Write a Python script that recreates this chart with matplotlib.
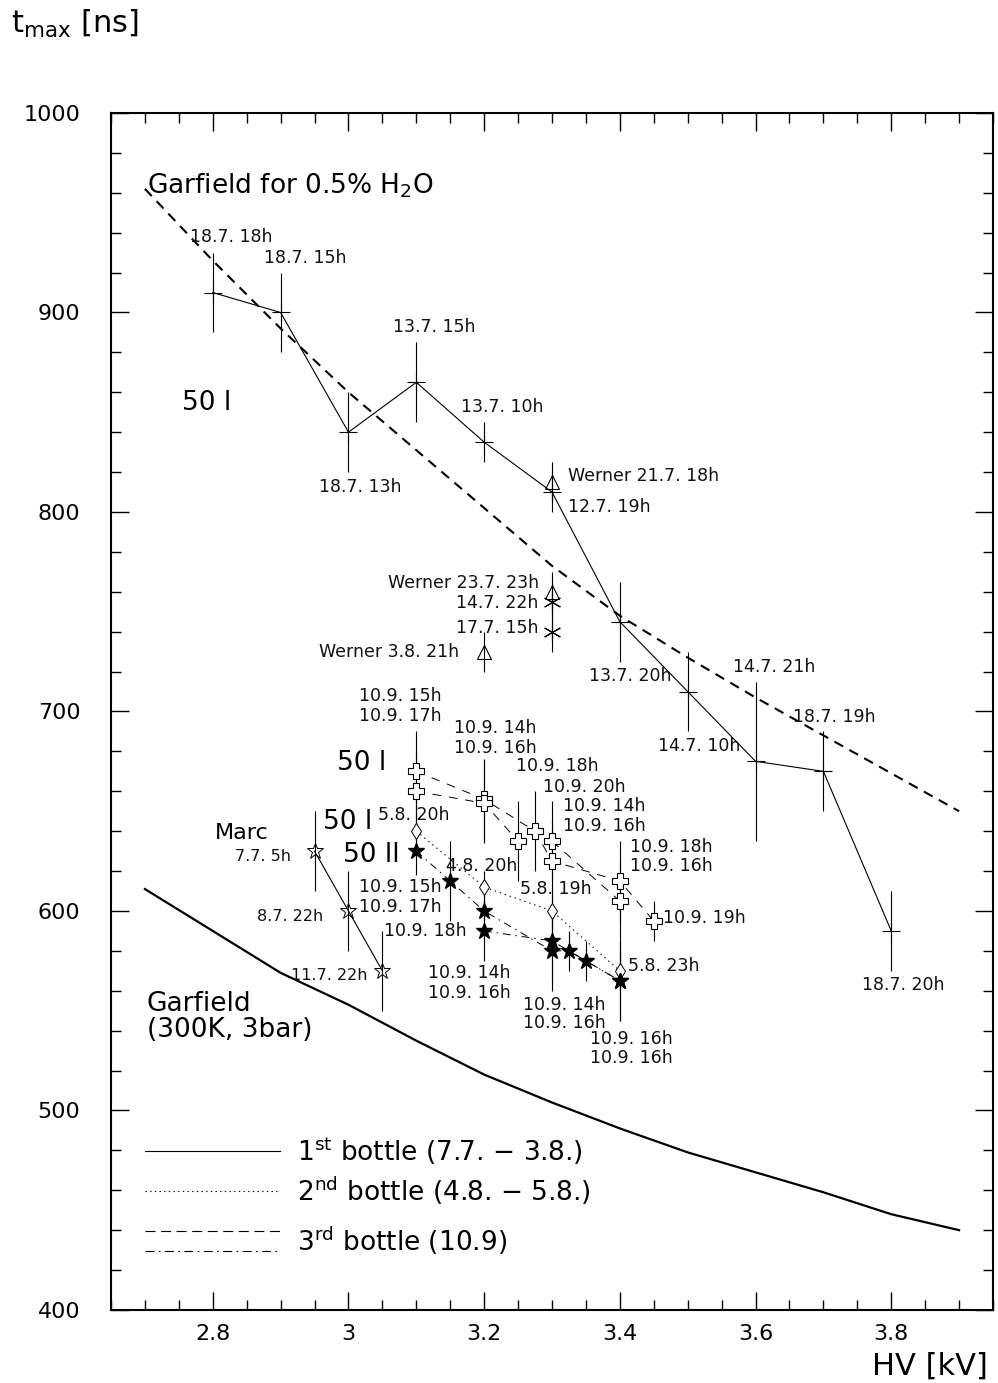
import matplotlib.pyplot as plt
from matplotlib.ticker import MultipleLocator

plt.rcParams['font.family'] = ['DejaVu Sans']
plt.rcParams['mathtext.default'] = 'regular'

# Garfield simulations
hv_garf = [2.7, 2.8, 2.9, 3.0, 3.1, 3.2, 3.3, 3.4, 3.5, 3.6, 3.7, 3.8, 3.9]
t_garf_h2o = [962, 926, 892, 860, 831, 802, 773, 748, 727, 707, 688, 669, 650]
t_garf_3bar = [611, 590, 569, 553, 535, 518, 504, 491, 479, 469, 459, 448, 440]

# 1st bottle (7.7. - 3.8.)
hv1 = [2.8, 2.9, 3.0, 3.1, 3.2, 3.3, 3.4, 3.5, 3.6, 3.7, 3.8]
t1 = [910, 900, 840, 865, 835, 810, 745, 710, 675, 670, 590]
e1 = [20, 20, 20, 20, 10, 10, 20, 20, 40, 20, 20]

hv_marc = [2.95, 3.0, 3.05]
t_marc = [630, 600, 570]
e_marc = [20, 20, 20]

hv_werner = [3.3, 3.3, 3.2]
t_werner = [815, 760, 730]
e_werner = [10, 10, 10]

hv_ast = [3.3, 3.3]
t_ast = [755, 740]
e_ast = [10, 10]

# 2nd bottle (4.8. - 5.8.)
hv2 = [3.1, 3.2, 3.3, 3.4]
t2 = [640, 612, 600, 570]
e2 = [10, 8, 10, 10]

# 3rd bottle (10.9), open crosses
hv3a = [3.1, 3.2, 3.275, 3.3, 3.4, 3.45]
t3a = [670, 656, 640, 625, 615, 595]
e3a = [20, 20, 20, 20, 20, 10]
hv3b = [3.1, 3.2, 3.25]
t3b = [660, 654, 635]
e3b = [20, 20, 20]
hv3c = [3.3, 3.4]
t3c = [635, 605]
e3c = [20, 20]

# 3rd bottle (10.9), full stars
hv3s1 = [3.1, 3.15, 3.2, 3.3, 3.325, 3.35, 3.4]
t3s1 = [630, 615, 600, 580, 580, 575, 565]
e3s1 = [12, 20, 15, 20, 10, 10, 20]
hv3s2 = [3.2, 3.3, 3.4]
t3s2 = [590, 585, 565]
e3s2 = [15, 20, 20]

# run labels: text, x, y, alignment
labels = [
    ('18.7. 18h', 2.8275, 937.8, 'center'),
    ('18.7. 15h', 2.9365, 927.3, 'center'),
    ('18.7. 13h', 3.0175, 812.5, 'center'),
    ('13.7. 15h', 3.1264, 892.7, 'center'),
    ('13.7. 10h', 3.2266, 852.6, 'center'),
    ('12.7. 19h', 3.323, 802.5, 'left'),
    ('Werner 21.7. 18h', 3.323, 818.0, 'left'),
    ('13.7. 20h', 3.4158, 717.8, 'center'),
    ('14.7. 10h', 3.5167, 682.7, 'center'),
    ('14.7. 21h', 3.6272, 722.3, 'center'),
    ('18.7. 19h', 3.7155, 697.2, 'center'),
    ('18.7. 20h', 3.8171, 562.9, 'center'),
    ('Werner 23.7. 23h', 3.2803, 764.4, 'right'),
    ('14.7. 22h', 3.2803, 754.4, 'right'),
    ('17.7. 15h', 3.2803, 741.9, 'right'),
    ('Werner 3.8. 21h', 3.1625, 729.8, 'right'),
    ('10.9. 15h', 3.0764, 707.8, 'center'),
    ('10.9. 17h', 3.0764, 697.7, 'center'),
    ('10.9. 14h', 3.217, 691.7, 'center'),
    ('10.9. 16h', 3.217, 681.7, 'center'),
    ('10.9. 18h', 3.3076, 672.7, 'center'),
    ('10.9. 20h', 3.3473, 662.2, 'center'),
    ('10.9. 14h', 3.3768, 652.6, 'center'),
    ('10.9. 16h', 3.3768, 642.6, 'center'),
    ('10.9. 18h', 3.4755, 632.3, 'center'),
    ('10.9. 16h', 3.4755, 622.6, 'center'),
    ('10.9. 19h', 3.463, 596.5, 'left'),
    ('5.8. 20h', 3.0958, 647.9, 'center'),
    ('10.9. 15h', 3.0764, 612.0, 'center'),
    ('10.9. 17h', 3.0764, 602.0, 'center'),
    ('10.9. 18h', 3.1132, 590.0, 'center'),
    ('10.9. 14h', 3.178, 568.9, 'center'),
    ('10.9. 16h', 3.178, 558.9, 'center'),
    ('10.9. 14h', 3.3179, 552.9, 'center'),
    ('10.9. 16h', 3.3179, 543.9, 'center'),
    ('10.9. 16h', 3.4166, 535.8, 'center'),
    ('10.9. 16h', 3.4166, 526.3, 'center'),
    ('4.8. 20h', 3.1971, 622.6, 'center'),
    ('5.8. 19h', 3.3061, 611.0, 'center'),
    ('5.8. 23h', 3.4114, 572.4, 'left'),
]
marc_labels = [
    ('7.7. 5h', 2.9151, 627.1),
    ('8.7. 22h', 2.9622, 597.0),
    ('11.7. 22h', 3.0285, 567.9),
]

fig = plt.figure(figsize=(9.98, 13.83), dpi=100)
ax = fig.add_axes([0.1112, 0.0528, 0.8838, 0.8655])

ax.plot(hv_garf, t_garf_h2o, color='k', lw=1.5, dashes=(4.8, 3.4))
ax.plot(hv_garf, t_garf_3bar, color='k', lw=1.6)

eb = dict(ecolor='k', elinewidth=0.8, capsize=0)
ax.errorbar(hv1, t1, yerr=e1, color='k', lw=0.8, marker='+', ms=13, mew=0.8, **eb)
ax.errorbar(hv_marc, t_marc, yerr=e_marc, color='k', lw=0.8, marker='*', ms=12,
            mfc='none', mew=0.7, **eb)
ax.errorbar(hv_werner, t_werner, yerr=e_werner, fmt='none', **eb)
ax.plot(hv_werner, t_werner, ls='none', marker='^', ms=10, mfc='none', mec='k', mew=0.8)
ax.errorbar(hv_ast, t_ast, yerr=e_ast, fmt='none', **eb)
ax.plot(hv_ast, t_ast, ls='none', marker=(6, 2, 0), ms=13, mec='k', mew=0.8)

ax.errorbar(hv2, t2, yerr=e2, color='k', lw=0.8, dashes=(1.2, 3.5), marker='d', ms=8,
            mfc='white', mec='k', mew=0.7, **eb)

for hv, t, e in [(hv3a, t3a, e3a), (hv3b, t3b, e3b), (hv3c, t3c, e3c)]:
    ax.errorbar(hv, t, yerr=e, color='k', lw=0.7, dashes=(9, 8), marker='P', ms=12,
                mfc='white', mec='k', mew=0.8, **eb)
for hv, t, e in [(hv3s1, t3s1, e3s1), (hv3s2, t3s2, e3s2)]:
    ax.errorbar(hv, t, yerr=e, color='k', lw=0.7, dashes=(8, 5, 1.5, 5), marker='*',
                ms=12, mfc='k', mec='k', **eb)

for txt, x, y, ha in labels:
    ax.text(x, y, txt, fontsize=12.5, ha=ha, va='center', color='#111111')
for txt, x, y in marc_labels:
    ax.text(x, y, txt, fontsize=11.5, ha='right', va='center', color='#111111')

ax.text(2.703, 963.4, 'Garfield for 0.5% H$_2$O', fontsize=19, va='center')
ax.text(2.7546, 854.6, '50 l', fontsize=19, va='center')
ax.text(2.8032, 639.1, 'Marc', fontsize=16, va='center')
ax.text(2.9622, 644.6, '50 l', fontsize=19, va='center')
ax.text(2.9917, 628.1, '50 ll', fontsize=19, va='center')
ax.text(2.9828, 674.2, '50 l', fontsize=19, va='center')
ax.text(2.703, 553.4, 'Garfield', fontsize=19, va='center')
ax.text(2.703, 540.4, '(300K, 3bar)', fontsize=19, va='center')

# legend drawn by hand
tr = ax.transAxes
ax.plot([0.0385, 0.1916], [0.1328, 0.1328], transform=tr, color='k', lw=0.8)
ax.plot([0.0385, 0.1916], [0.0994, 0.0994], transform=tr, color='k', lw=0.8, dashes=(1.2, 3.0))
ax.plot([0.0385, 0.1916], [0.0660, 0.0660], transform=tr, color='k', lw=0.8, dashes=(9, 5))
ax.plot([0.0385, 0.1916], [0.0493, 0.0493], transform=tr, color='k', lw=0.8,
        dashes=(8, 4, 1.5, 4))
ax.text(0.2109, 0.1328, '1$^{st}$ bottle (7.7. $-$ 3.8.)', transform=tr, fontsize=19, va='center')
ax.text(0.2109, 0.0994, '2$^{nd}$ bottle (4.8. $-$ 5.8.)', transform=tr, fontsize=19, va='center')
ax.text(0.2109, 0.0577, '3$^{rd}$ bottle (10.9)', transform=tr, fontsize=19, va='center')

ax.set_xlim(2.65, 3.95)
ax.set_ylim(400, 1000)
ax.xaxis.set_major_locator(MultipleLocator(0.2))
ax.xaxis.set_minor_locator(MultipleLocator(0.05))
ax.yaxis.set_major_locator(MultipleLocator(100))
ax.yaxis.set_minor_locator(MultipleLocator(20))
ax.tick_params(which='both', direction='in', top=True, right=True, width=1.0)
ax.tick_params(which='major', length=13, labelsize=16, pad=10)
ax.tick_params(axis='y', which='major', pad=22)
ax.tick_params(which='minor', length=7)
ax.set_xticks([2.8, 3.0, 3.2, 3.4, 3.6, 3.8])
ax.set_xticklabels(['2.8', '3', '3.2', '3.4', '3.6', '3.8'])
for s in ax.spines.values():
    s.set_linewidth(1.5)

fig.text(0.990, 0.0123, 'HV [kV]', fontsize=22, ha='right', va='center')
fig.text(0.011, 0.983, 't$_{max}$ [ns]', fontsize=22, ha='left', va='center')

fig.savefig('out.png', dpi=100)
